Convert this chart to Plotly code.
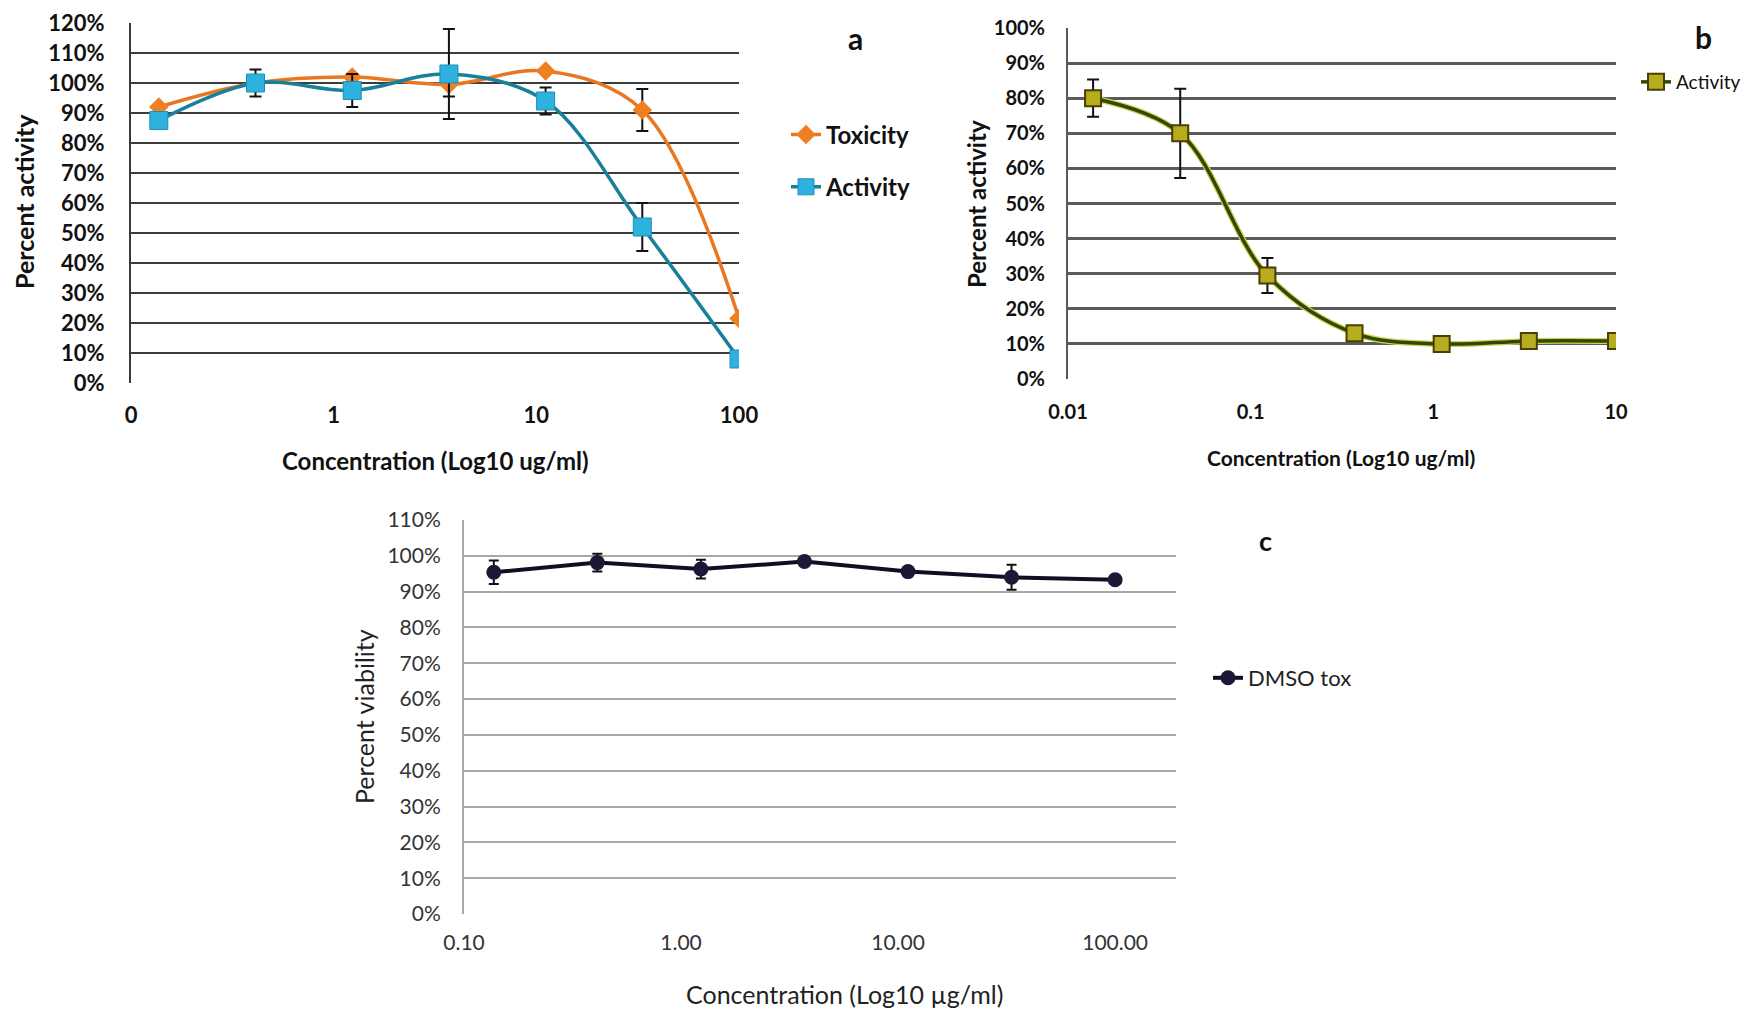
import plotly.graph_objects as go

W, H = 1758, 1011
OFF = 8  # page body margin

# ---------------- data ----------------
conc_a = [0.1372, 0.4115, 1.2346, 3.7037, 11.111, 33.333, 100]
tox_a = [92, 100, 102, 99.5, 104, 91, 21.5]
tox_err = [0, 0, 0, 4, 0, 7, 0]
act_a = [87.5, 100, 97.5, 103, 94, 52, 8]
act_err = [0, 4.5, 5.5, 15, 4.5, 8, 0]

conc_b = [0.01372, 0.04115, 0.1235, 0.3704, 1.111, 3.333, 10]
act_b = [80, 70, 29.5, 13, 10, 10.8, 10.8]
act_b_err = [5.3, 12.7, 5, 0, 0, 0, 0]

conc_c = [0.1372, 0.4115, 1.2346, 3.7037, 11.111, 33.333, 100]
via_c = [95.4, 98.1, 96.3, 98.4, 95.6, 94.0, 93.3]
via_c_err = [3.3, 2.5, 2.6, 0.8, 0.8, 3.5, 0]

ticks_a = [0.1, 1, 10, 100]
ticklab_a = ["0", "1", "10", "100"]
ticks_b = [0.01, 0.1, 1, 10]
ticklab_b = ["0.01", "0.1", "1", "10"]
ticks_c = [0.1, 1, 10, 100]
ticklab_c = ["0.10", "1.00", "10.00", "100.00"]

FONT = "Lato"

def px_x(p):
    return (p - OFF) / W

def px_y(p):
    return 1 - (p - OFF) / H

fig = go.Figure()

# ---------------- panel a ----------------
fig.add_trace(go.Scatter(
    x=conc_a, y=tox_a, name="Toxicity", mode="lines+markers",
    line=dict(color="#E8771F", width=3.5, shape="spline", smoothing=1),
    marker=dict(symbol="diamond", size=15, color="#F07F22"),
    error_y=dict(type="data", array=tox_err, color="#111111", thickness=2, width=6),
    xaxis="x", yaxis="y", legend="legend", legendgroup="tox"))
fig.add_trace(go.Scatter(
    x=conc_a, y=act_a, name="Activity", mode="lines+markers",
    line=dict(color="#17809A", width=3.5, shape="spline", smoothing=1),
    marker=dict(symbol="square", size=18, color="#2DB2E0",
                line=dict(color="#1A8FB5", width=1)),
    error_y=dict(type="data", array=act_err, color="#111111", thickness=2, width=6),
    xaxis="x", yaxis="y", legend="legend", legendgroup="act"))

# ---------------- panel b ----------------
fig.add_trace(go.Scatter(
    x=conc_b, y=act_b, mode="lines", showlegend=False, hoverinfo="skip",
    line=dict(color="#CFCF55", width=6, shape="spline", smoothing=1),
    xaxis="x2", yaxis="y2"))
fig.add_trace(go.Scatter(
    x=conc_b, y=act_b, name="Activity", mode="lines+markers",
    line=dict(color="#2F4A05", width=3.5, shape="spline", smoothing=1),
    marker=dict(symbol="square", size=16, color="#B5AC1E",
                line=dict(color="#4A3E05", width=2)),
    error_y=dict(type="data", array=act_b_err, color="#111111", thickness=2, width=6),
    xaxis="x2", yaxis="y2", legend="legend2"))

# ---------------- panel c ----------------
fig.add_trace(go.Scatter(
    x=conc_c, y=via_c, name="DMSO tox", mode="lines+markers",
    line=dict(color="#120D22", width=4),
    marker=dict(symbol="circle", size=15, color="#1D1838"),
    error_y=dict(type="data", array=via_c_err, color="#111111", thickness=2, width=5),
    xaxis="x3", yaxis="y3", legend="legend3"))

# ---------------- axes ----------------
common_x = dict(type="log", showgrid=False, zeroline=False, ticks="",
                tickmode="array", automargin=False)
common_y = dict(zeroline=False, ticks="", dtick=10, ticksuffix="%",
                showgrid=True, automargin=False)

fig.update_layout(
    width=W, height=H, margin=dict(l=0, r=0, t=0, b=0, autoexpand=False),
    paper_bgcolor="white", plot_bgcolor="white",
    font=dict(family=FONT, color="#000000"),
    xaxis=dict(common_x, domain=[px_x(131), px_x(739)], range=[-1, 2],
               tickvals=ticks_a, ticktext=ticklab_a, anchor="y",
               tickfont=dict(size=22, family=FONT, color="#111", weight="bold"),
               ticklabelstandoff=17, showline=False),
    yaxis=dict(common_y, domain=[px_y(383), px_y(23)], range=[0, 120],
               anchor="x", gridcolor="#3C3C3C", gridwidth=2,
               tickfont=dict(size=22, family=FONT, color="#111", weight="bold"),
               ticklabelstandoff=20, showline=True, linecolor="#3C3C3C", linewidth=2),
    xaxis2=dict(common_x, domain=[px_x(1068), px_x(1616)], range=[-2, 1],
                tickvals=ticks_b, ticktext=ticklab_b, anchor="y2",
                tickfont=dict(size=20, family=FONT, color="#111", weight="bold"),
                ticklabelstandoff=19, showline=False),
    yaxis2=dict(common_y, domain=[px_y(379), px_y(28)], range=[0, 100],
                anchor="x2", gridcolor="#5A5A5A", gridwidth=2.5,
                tickfont=dict(size=20, family=FONT, color="#111", weight="bold"),
                ticklabelstandoff=17, showline=True, linecolor="#5A5A5A", linewidth=2),
    xaxis3=dict(common_x, domain=[px_x(464), px_x(1176)], range=[-1, 2.2805],
                tickvals=ticks_c, ticktext=ticklab_c, anchor="y3",
                tickfont=dict(size=21, family=FONT, color="#333"),
                ticklabelstandoff=14, showline=False),
    yaxis3=dict(common_y, domain=[px_y(914), px_y(520)], range=[0, 110],
                anchor="x3", gridcolor="#A8A8A8", gridwidth=2,
                tickfont=dict(size=21, family=FONT, color="#333"),
                ticklabelstandoff=17, showline=True, linecolor="#A8A8A8", linewidth=2),
    legend=dict(x=px_x(786), y=px_y(161), xanchor="left", yanchor="middle",
                font=dict(size=24, family=FONT, color="#111", weight="bold"),
                bgcolor="rgba(0,0,0,0)", traceorder="grouped", tracegroupgap=18),
    legend2=dict(x=px_x(1636), y=px_y(82), xanchor="left", yanchor="middle",
                 font=dict(size=19, family=FONT, color="#111"),
                 bgcolor="rgba(0,0,0,0)"),
    legend3=dict(x=px_x(1208), y=px_y(678), xanchor="left", yanchor="middle",
                 font=dict(size=22, family=FONT, color="#222"),
                 bgcolor="rgba(0,0,0,0)"),
)

def ann(text, x, y, size, bold=True, angle=0, color="#111"):
    fig.add_annotation(
        text=text, x=px_x(x), y=px_y(y), xref="paper", yref="paper",
        showarrow=False, xanchor="center", yanchor="middle", textangle=angle,
        font=dict(size=size, family=FONT, color=color,
                  weight="bold" if bold else "normal"))

# axis titles
ann("Percent activity", 24, 202, 25, angle=-90)
ann("Concentration (Log10 ug/ml)", 435, 460, 24)
ann("Percent activity", 976, 204, 24, angle=-90)
ann("Concentration (Log10 ug/ml)", 1341, 457, 21)
ann("Percent viability", 364, 717, 25, bold=False, angle=-90, color="#222")
ann("Concentration (Log10 µg/ml)", 844, 994, 25, bold=False, color="#222")

# panel letters
ann("a", 855, 38, 30)
ann("b", 1703, 37, 30)
ann("c", 1265, 540, 27)

fig.write_html("out.html")
